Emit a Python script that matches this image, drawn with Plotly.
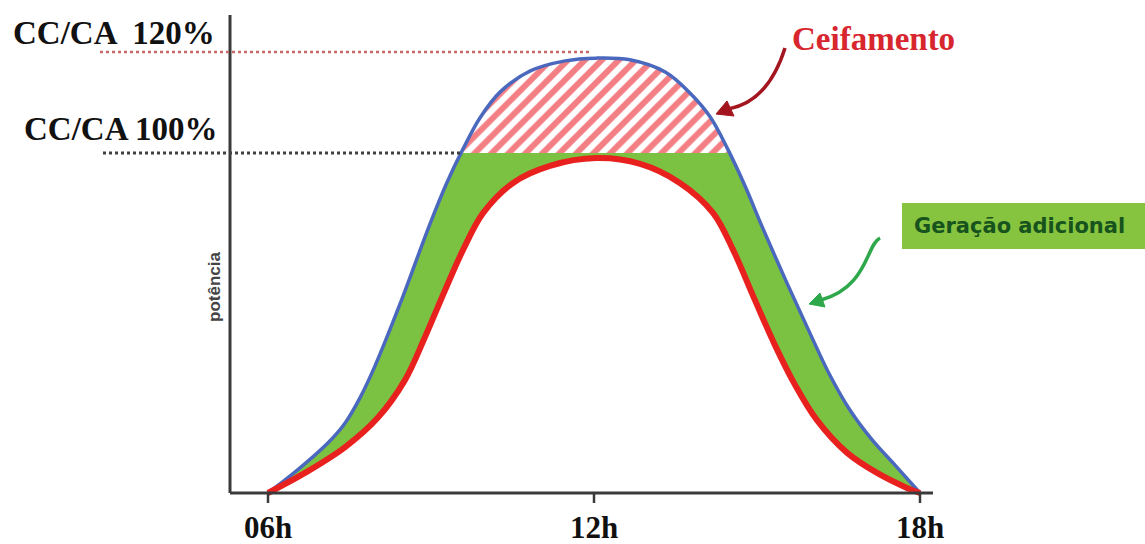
import numpy as np
import plotly.graph_objects as go

# ---------------- data ----------------
tick_hours = [6, 12, 18]
tick_labels = ["06h", "12h", "18h"]

# curve with DC/AC 120% (blue) – potential generation
blue_hours = [6.00, 6.50, 7.12, 7.42, 7.69, 7.97, 8.43, 8.98, 9.29, 9.59, 9.90, 10.27, 10.82,
              11.47, 12.04, 12.66, 13.31, 13.77, 14.14, 14.45, 14.78, 15.09, 15.55,
              15.98, 16.34, 16.71, 17.12, 17.54, 18.00]
blue_power = [0, 6.2, 15.0, 20.6, 27.9, 37.4, 55.6, 79.1, 91.2, 101.2, 110.3, 117.9, 124.1,
              127.1, 127.9, 127.4, 123.8, 117.6, 110.6, 101.5, 90.3, 78.5, 61.8,
              46.8, 34.7, 24.4, 15.6, 8.2, 0]

# curve with DC/AC 100% (red)
red_hours = [6.00, 6.68, 7.42, 8.02, 8.52, 8.89, 9.26, 9.59, 9.96, 10.51, 11.19,
             12.04, 12.85, 13.58, 14.19, 14.56, 14.96, 15.33, 15.70, 16.10, 16.66,
             17.21, 17.76, 18.00]
red_power = [0, 5.9, 13.5, 22.1, 33.2, 45.9, 59.7, 71.5, 82.4, 91.2, 96.2,
             98.5, 96.8, 91.2, 82.4, 71.5, 56.8, 43.5, 31.8, 21.5, 11.8,
             5.9, 1.5, 0]

level_100 = 100.0
level_120 = 129.7
level_labels = ["CC/CA 100%", "CC/CA  120%"]

# ---------------- geometry helpers (pixel -> data; plot area = whole figure) ----------------
W, H = 1145, 544
X_RANGE = [6 - 268 / 54.333, 6 + 877 / 54.333]
Y_RANGE = [(493 - 544) / 3.4, 493 / 3.4]


def P(px, py):
    return 6 + (px - 268) / 54.333, (493 - py) / 3.4


def path(cmds):
    out = []
    for c in cmds:
        if isinstance(c, str):
            out.append(c)
        else:
            x, y = P(*c)
            out.append(f"{x:.4f},{y:.4f}")
    return " ".join(out)


bh = np.array(blue_hours)
bp = np.array(blue_power)
# crossings of the blue curve with the 100% level
i_up = np.where((bp[:-1] < level_100) & (bp[1:] >= level_100))[0][0]
i_dn = np.where((bp[:-1] >= level_100) & (bp[1:] < level_100))[0][0]
x_l = float(np.interp(level_100, [bp[i_up], bp[i_up + 1]], [bh[i_up], bh[i_up + 1]]))
x_r = float(np.interp(level_100, [bp[i_dn + 1], bp[i_dn]], [bh[i_dn + 1], bh[i_dn]]))
mask = bp >= level_100
clip_x = [x_l] + list(bh[mask]) + [x_r]
clip_y = [level_100] + list(bp[mask]) + [level_100]

GREEN = "#7cc242"
RED = "#e8211f"
BLUE = "#4a68bd"
SPL = dict(shape="spline", smoothing=1)

fig = go.Figure()
# green: additional generation
fig.add_trace(go.Scatter(x=blue_hours, y=blue_power, mode="lines", fill="tozeroy",
                         fillcolor=GREEN, line=dict(width=0, **SPL),
                         hoverinfo="skip", showlegend=False))
# clipped energy (hatched)
fig.add_trace(go.Scatter(x=clip_x, y=clip_y, mode="lines", fill="toself",
                         fillcolor="white",
                         fillpattern=dict(shape="/", fgcolor="#e8000a", bgcolor="white",
                                          size=12, solidity=0.5),
                         line=dict(width=0, **SPL),
                         hoverinfo="skip", showlegend=False))
# white under red curve
fig.add_trace(go.Scatter(x=red_hours, y=red_power, mode="lines", fill="tozeroy",
                         fillcolor="white", line=dict(width=0, **SPL),
                         hoverinfo="skip", showlegend=False))
# curves
fig.add_trace(go.Scatter(x=blue_hours, y=blue_power, mode="lines",
                         line=dict(color=BLUE, width=3.5, **SPL),
                         hoverinfo="skip", showlegend=False))
fig.add_trace(go.Scatter(x=red_hours, y=red_power, mode="lines",
                         line=dict(color=RED, width=6, **SPL),
                         hoverinfo="skip", showlegend=False))

shapes = []
x0_axis, _ = P(230, 0)
x1_axis, _ = P(933, 0)
_, ytop = P(0, 15)
_, ytick = P(0, 503)
AX = "#3a3a3a"
shapes.append(dict(type="line", xref="x", yref="y", x0=x0_axis, x1=x1_axis, y0=0, y1=0,
                   line=dict(color=AX, width=3), layer="above"))
shapes.append(dict(type="line", xref="x", yref="y", x0=x0_axis, x1=x0_axis, y0=0, y1=ytop,
                   line=dict(color=AX, width=3), layer="above"))
for t in tick_hours:
    shapes.append(dict(type="line", xref="x", yref="y", x0=t, x1=t, y0=0, y1=ytick,
                       line=dict(color=AX, width=2.5), layer="above"))
# level reference lines
xa, _ = P(100, 0)
xb, _ = P(590, 0)
shapes.append(dict(type="line", xref="x", yref="y", x0=xa, x1=xb, y0=level_120, y1=level_120,
                   line=dict(color="#c96868", width=2.5, dash="dot"), layer="above"))
xa2, _ = P(103, 0)
shapes.append(dict(type="line", xref="x", yref="y", x0=xa2, x1=x_l, y0=level_100, y1=level_100,
                   line=dict(color="#404040", width=3, dash="dot"), layer="above"))
# green label box
bx0, by0 = P(902, 203)
bx1, by1 = P(1150, 249)
shapes.append(dict(type="rect", xref="x", yref="y", x0=bx0, x1=bx1, y0=by1, y1=by0,
                   fillcolor="#86c440", line=dict(width=0), layer="above"))
# dark red curved arrow
shapes.append(dict(type="path", xref="x", yref="y",
                   path=path(["M", (785, 48), "Q", (768, 102), (728, 109)]),
                   line=dict(color="#a3151f", width=3.5), layer="above"))
shapes.append(dict(type="path", xref="x", yref="y",
                   path=path(["M", (716, 114), "L", (734, 116), "L", (727, 101), "Z"]),
                   fillcolor="#a3151f", line=dict(color="#a3151f", width=1), layer="above"))
# green curved arrow
shapes.append(dict(type="path", xref="x", yref="y",
                   path=path(["M", (880, 238), "C", (866, 245), (868, 287), (821, 300)]),
                   line=dict(color="#2ea84a", width=3.5), layer="above"))
shapes.append(dict(type="path", xref="x", yref="y",
                   path=path(["M", (809, 304), "L", (825, 307), "L", (820, 293), "Z"]),
                   fillcolor="#2ea84a", line=dict(color="#2ea84a", width=1), layer="above"))

annotations = []
SERIF = "Liberation Serif, Times New Roman, serif"
for t, lab in zip(tick_hours, tick_labels):
    annotations.append(dict(x=t, y=P(0, 527)[1], xref="x", yref="y", text=f"<b>{lab}</b>",
                            showarrow=False, xanchor="center", yanchor="middle",
                            font=dict(family=SERIF, size=31, color="#111")))
lx, ly = P(11, 33)
annotations.append(dict(x=lx, y=ly, xref="x", yref="y", text=f"<b>{level_labels[1]}</b>",
                        showarrow=False, xanchor="left", yanchor="middle",
                        font=dict(family=SERIF, size=33, color="#111")))
lx, ly = P(22, 129)
annotations.append(dict(x=lx, y=ly, xref="x", yref="y", text=f"<b>{level_labels[0]}</b>",
                        showarrow=False, xanchor="left", yanchor="middle",
                        font=dict(family=SERIF, size=33, color="#111")))
cx, cy = P(790, 39)
annotations.append(dict(x=cx, y=cy, xref="x", yref="y", text="<b>Ceifamento</b>",
                        showarrow=False, xanchor="left", yanchor="middle",
                        font=dict(family=SERIF, size=33, color="#d8262e")))
gx, gy = P(912, 226)
annotations.append(dict(x=gx, y=gy, xref="x", yref="y", text="<b>Geração adicional</b>",
                        showarrow=False, xanchor="left", yanchor="middle",
                        font=dict(family="DejaVu Sans", size=21, color="#17531d")))
px_, py_ = P(214, 287)
annotations.append(dict(x=px_, y=py_, xref="x", yref="y", text="<b>potência</b>",
                        showarrow=False, xanchor="center", yanchor="middle", textangle=-90,
                        font=dict(family="Liberation Sans, Arial", size=17, color="#444")))

fig.update_layout(
    width=W, height=H, margin=dict(l=0, r=0, t=0, b=0, pad=0),
    paper_bgcolor="white", plot_bgcolor="white",
    xaxis=dict(range=X_RANGE, visible=False, fixedrange=True),
    yaxis=dict(range=Y_RANGE, visible=False, fixedrange=True),
    shapes=shapes, annotations=annotations, showlegend=False,
)

fig.write_html("out.html", config={"displayModeBar": False},
               post_script="document.body.style.margin='0';document.body.style.padding='0';")
